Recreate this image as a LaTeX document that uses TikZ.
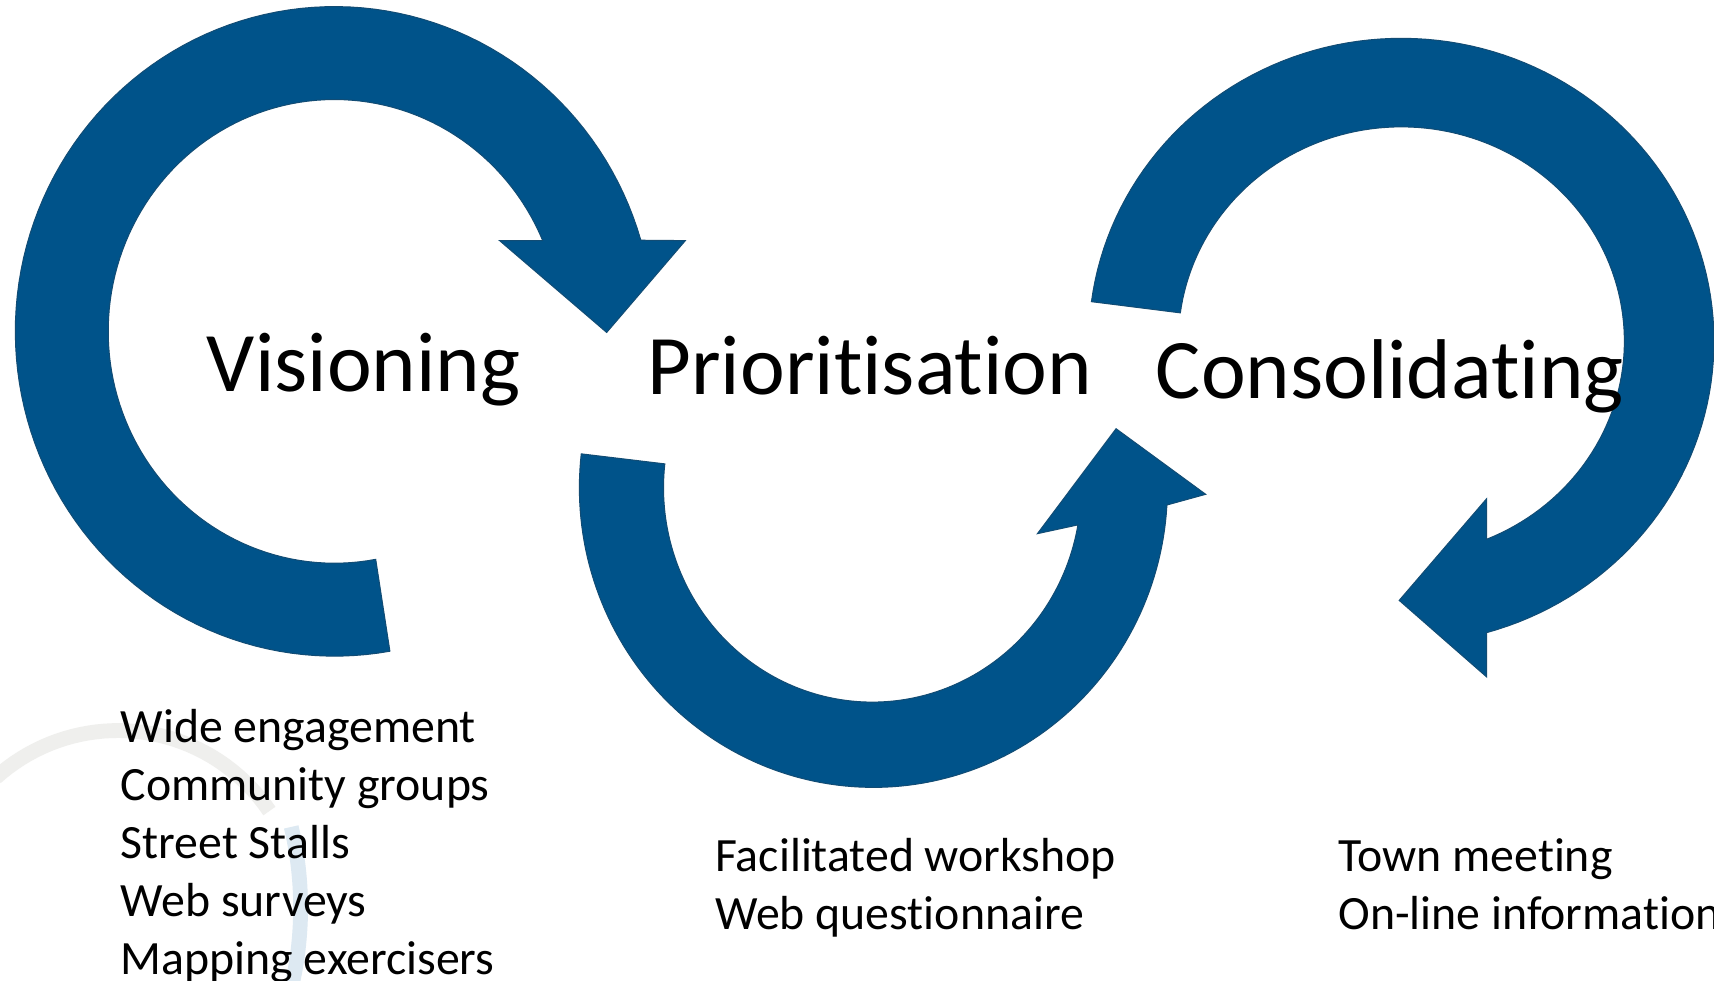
\documentclass[tikz,border=0pt]{standalone}
\usepackage{fontspec}
\setmainfont[Ligatures=NoCommon]{Carlito}
\definecolor{arrowblue}{HTML}{00538A}
\definecolor{arrowedge}{HTML}{124C74}
\definecolor{ghostgrey}{HTML}{EFEFED}
\definecolor{ghostblue}{HTML}{DDE9F2}
\tikzset{
  bigarrow/.style={fill=arrowblue,draw=arrowedge,line width=0.5pt,line join=miter},
  ghost/.style={line width=7.4pt},
  title/.style={anchor=base west,inner sep=0pt,font=\fontsize{42.4}{50}\selectfont},
  listing/.style={anchor=north west,inner sep=0pt,align=left,font=\fontsize{23.9}{29}\selectfont}
}
\begin{document}
\begin{tikzpicture}[x=0.54656pt,y=-0.5468pt]
\clip (0,0) rectangle (1568,897);
\fill[white] (0,0) rectangle (1568,897);
% faint background ring
\draw[ghost,ghostgrey] plot[domain=228:326,samples=40] ({108+167*cos(\x)},{835+167*sin(\x)});
\draw[ghost,ghostblue] plot[domain=342:380,samples=30] ({100+175*cos(\x)},{830+239*sin(\x)});
% arrow 1
\path[bigarrow] plot[domain=80:343.7,samples=120] ({306+292*cos(\x)},{303+297*sin(\x)})
  -- (627,220) -- (555,304) -- (457,220) -- (496,220)
  -- plot[domain=336.9:79.5,samples=120] ({306+207*cos(\x)},{303+212*sin(\x)}) -- cycle;
% arrow 2
\path[bigarrow] plot[domain=186.5:3.3,samples=120] ({799+269*cos(\x)},{446+274*sin(\x)})
  -- (1103,452) -- (1021,392) -- (949,488) -- (986,480)
  -- plot[domain=10:186.4,samples=120] ({798+191*cos(\x)},{446+196*sin(\x)}) -- cycle;
% arrow 3
\path[bigarrow] plot[domain=187.5:434.2,samples=120] ({1282+286*cos(\x)},{312+277*sin(\x)})
  -- (1360,619) -- (1280,549) -- (1360,456)
  -- plot[domain=427.5:187.6,samples=120] ({1282+204*cos(\x)},{312+196*sin(\x)}) -- cycle;
% titles
\node[title] (vis) at (189,358) {Visioning};
\node[title] (pri) at (592,361) {Prioritisation};
\node[title] (con) at (1057,364) {Consolidating};
% lists
\node[listing] (l1) at (110,641) {\strut Wide engagement\\Community groups\\Street Stalls\\Web surveys\\Mapping exercisers};
\node[listing] (l2) at (654,759) {\strut Facilitated workshop\\Web questionnaire};
\node[listing] (l3) at (1224,759) {\strut Town meeting\\On-line information};
\end{tikzpicture}
\end{document}
